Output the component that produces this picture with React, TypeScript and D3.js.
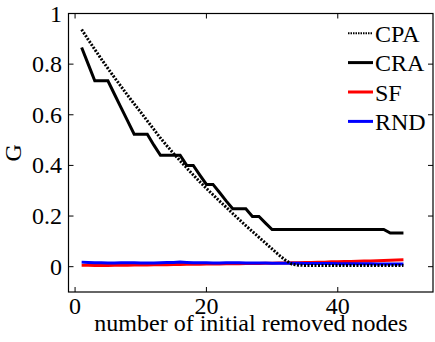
import React, { useRef, useEffect } from 'react'
import * as d3 from 'd3'

// removed node counts 1..50
const nodes = d3.range(1, 51)

const cpa = [
  0.937, 0.897, 0.858, 0.82, 0.783, 0.747, 0.712, 0.677, 0.643, 0.61,
  0.576, 0.542, 0.508, 0.477, 0.447, 0.418, 0.39, 0.362, 0.335, 0.309,
  0.284, 0.259, 0.235, 0.21, 0.186, 0.162, 0.139, 0.116, 0.093, 0.07,
  0.047, 0.026, 0.01, 0.006, 0.005, 0.005, 0.005, 0.005, 0.005, 0.005,
  0.005, 0.005, 0.005, 0.005, 0.005, 0.005, 0.005, 0.005, 0.005, 0.005,
]

const cra = [
  0.866, 0.8, 0.734, 0.734, 0.734, 0.681, 0.628, 0.576, 0.523, 0.523,
  0.523, 0.48, 0.44, 0.44, 0.44, 0.44, 0.4, 0.4, 0.362, 0.325,
  0.325, 0.293, 0.26, 0.229, 0.229, 0.229, 0.198, 0.198, 0.172, 0.147,
  0.147, 0.147, 0.147, 0.147, 0.147, 0.147, 0.147, 0.147, 0.147, 0.147,
  0.147, 0.147, 0.147, 0.147, 0.147, 0.147, 0.147, 0.133, 0.133, 0.133,
]

const sf = [
  0.006, 0.006, 0.005, 0.005, 0.005, 0.006, 0.006, 0.006, 0.007, 0.007,
  0.007, 0.008, 0.008, 0.008, 0.009, 0.009, 0.01, 0.01, 0.01, 0.011,
  0.011, 0.011, 0.012, 0.012, 0.012, 0.013, 0.013, 0.013, 0.014, 0.014,
  0.015, 0.015, 0.016, 0.016, 0.017, 0.017, 0.018, 0.018, 0.019, 0.019,
  0.02, 0.02, 0.021, 0.022, 0.022, 0.023, 0.024, 0.025, 0.026, 0.027,
]

const rnd = [
  0.018, 0.017, 0.016, 0.016, 0.015, 0.015, 0.016, 0.016, 0.016, 0.015,
  0.015, 0.015, 0.016, 0.017, 0.017, 0.018, 0.017, 0.016, 0.016, 0.016,
  0.015, 0.015, 0.016, 0.016, 0.016, 0.015, 0.015, 0.015, 0.015, 0.014,
  0.014, 0.014, 0.014, 0.014, 0.013, 0.013, 0.013, 0.013, 0.013, 0.012,
  0.012, 0.012, 0.012, 0.012, 0.012, 0.011, 0.011, 0.011, 0.011, 0.011,
]

const seriesNames = ['CPA', 'CRA', 'SF', 'RND']
const xTicks = [0, 20, 40]
const yTicks = [0, 0.2, 0.4, 0.6, 0.8, 1]

const FONT = 'Liberation Serif'
const FS = 24

export default function App() {
  const svgRef = useRef<SVGSVGElement>(null)
  const width = 435
  const height = 342

  useEffect(() => {
    if (!svgRef.current) return
    const svg = d3.select(svgRef.current)
    svg.selectAll('*').remove()

    const plot = { left: 68.5, right: 433, top: 13.5, bottom: 292 }
    const x = d3.scaleLinear().domain([-1, 54.5]).range([plot.left, plot.right])
    const y = d3.scaleLinear().domain([-0.1, 1]).range([plot.bottom, plot.top])

    const styles = [
      { color: '#000000', dash: '2,1.5', values: cpa },
      { color: '#000000', dash: null, values: cra },
      { color: '#ff0000', dash: null, values: sf },
      { color: '#0000ff', dash: null, values: rnd },
    ]

    const line = d3.line<number>()
      .x((d, i) => x(nodes[i]))
      .y(d => y(d))

    // draw SF/RND first so black lines sit on top
    const order = [2, 3, 0, 1]
    order.forEach(k => {
      const s = styles[k]
      svg.append('path')
        .datum(s.values)
        .attr('d', line)
        .attr('fill', 'none')
        .attr('stroke', s.color)
        .attr('stroke-width', 3)
        .attr('stroke-dasharray', s.dash)
    })

    // frame
    svg.append('rect')
      .attr('x', plot.left)
      .attr('y', plot.top)
      .attr('width', plot.right - plot.left)
      .attr('height', plot.bottom - plot.top)
      .attr('fill', 'none')
      .attr('stroke', '#000')
      .attr('stroke-width', 1.2)

    const tickLen = 5
    xTicks.forEach(t => {
      svg.append('line')
        .attr('x1', x(t)).attr('x2', x(t))
        .attr('y1', plot.bottom).attr('y2', plot.bottom - tickLen)
        .attr('stroke', '#000')
      svg.append('line')
        .attr('x1', x(t)).attr('x2', x(t))
        .attr('y1', plot.top).attr('y2', plot.top + tickLen)
        .attr('stroke', '#000')
      svg.append('text')
        .attr('x', x(t))
        .attr('y', 314)
        .attr('text-anchor', 'middle')
        .attr('font-family', FONT)
        .attr('font-size', FS)
        .text(t)
    })

    yTicks.forEach(t => {
      svg.append('line')
        .attr('x1', plot.left).attr('x2', plot.left + tickLen)
        .attr('y1', y(t)).attr('y2', y(t))
        .attr('stroke', '#000')
      svg.append('line')
        .attr('x1', plot.right).attr('x2', plot.right - tickLen)
        .attr('y1', y(t)).attr('y2', y(t))
        .attr('stroke', '#000')
      svg.append('text')
        .attr('x', 62)
        .attr('y', y(t) + 8)
        .attr('text-anchor', 'end')
        .attr('font-family', FONT)
        .attr('font-size', FS)
        .text(String(t))
    })

    svg.append('text')
      .attr('x', 251)
      .attr('y', 331)
      .attr('text-anchor', 'middle')
      .attr('font-family', FONT)
      .attr('font-size', FS)
      .text('number of initial removed nodes')

    svg.append('text')
      .attr('transform', `translate(21, ${(plot.top + plot.bottom) / 2}) rotate(-90)`)
      .attr('text-anchor', 'middle')
      .attr('font-family', FONT)
      .attr('font-size', FS)
      .text('G')

    // legend
    const legend = svg.append('g')
    seriesNames.forEach((name, i) => {
      const base = 41.7 + i * 29.4
      const s = styles[i]
      legend.append('line')
        .attr('x1', 348).attr('x2', 373)
        .attr('y1', base - 8.5).attr('y2', base - 8.5)
        .attr('stroke', s.color)
        .attr('stroke-width', s.dash ? 2 : 3)
        .attr('stroke-dasharray', s.dash ? '1.5,1' : null)
      legend.append('text')
        .attr('x', 375)
        .attr('y', base)
        .attr('font-family', FONT)
        .attr('font-size', FS)
        .text(name)
    })
  }, [])

  return (
    <svg
      ref={svgRef}
      width={width}
      height={height}
      fontFamily={FONT}
      style={{ position: 'absolute', left: 0, top: 0, background: '#fff' }}
    />
  )
}
